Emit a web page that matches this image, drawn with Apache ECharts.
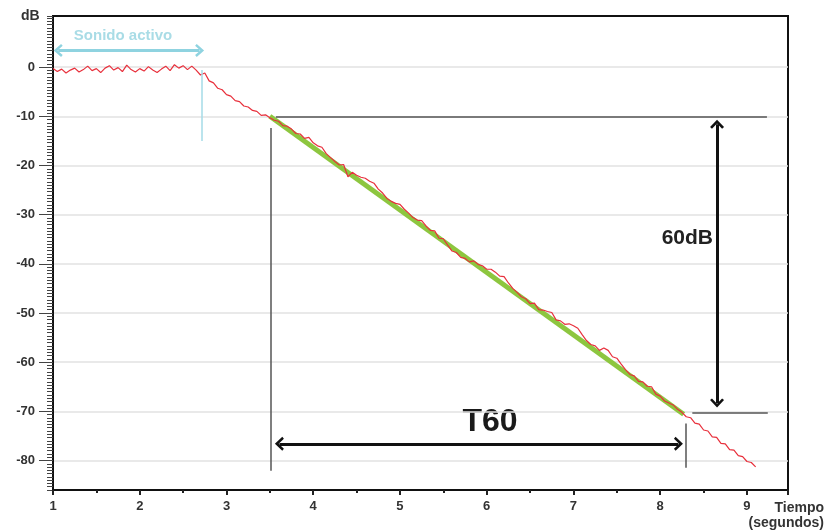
<!DOCTYPE html>
<html>
<head>
<meta charset="utf-8">
<title>Tiempo de reverberación T60</title>
<script src="https://cdn.jsdelivr.net/npm/echarts@6/dist/echarts.min.js"></script>
<style>
    html, body { margin: 0; padding: 0; background: #fff; }
    #main { width: 828px; height: 531px; }
</style>
</head>
<body>
<div id="main"></div>
<script>
// curva medida (dB), una muestra cada 0.05 s desde t = 1.00 s
var tInicio = 1.0;
var tPaso = 0.05;
var nivelDb = [
    -0.3, -0.9, -0.4, -1.2, -0.6, -0.2, -1.0, -0.5, 0.2, -0.7,
    -0.3, -1.1, -0.2, 0.3, -0.6, -0.1, -0.9, 0.4, -0.5, -1.0,
    -0.3, -0.8, 0.1, -0.6, -1.1, -0.4, 0.2, -0.7, 0.5, -0.2,
    0.3, -0.5, 0.2, -0.6,
    -1.6, -1.2, -2.8, -3.2, -4.3, -4.6, -5.6, -5.9, -6.8, -7.0,
    -7.9, -8.1, -8.8, -9.0, -9.8, -9.7, -10.3,
    -10.8, -11.0, -11.9, -12.0, -12.6, -13.5, -13.6, -14.5, -14.3, -15.4,
    -16.0, -16.3, -17.6, -18.4, -19.2, -19.9, -19.8, -22.3, -21.4, -22.0,
    -22.4, -22.6, -23.2, -23.6, -24.8, -25.6, -26.7, -27.3, -27.7, -27.9,
    -28.9, -29.7, -30.6, -31.1, -31.2, -32.3, -33.2, -33.3, -34.8, -34.9,
    -36.2, -37.4, -37.7, -38.7, -38.9, -39.6, -39.4, -40.1, -40.4, -41.1,
    -41.1, -41.7, -42.5, -42.6, -43.9, -45.0, -45.8, -46.7, -47.1, -48.1,
    -48.0, -49.3, -49.4, -49.7, -49.9, -51.4, -51.6, -52.3, -52.2, -52.6,
    -53.1, -54.4, -55.6, -56.4, -56.7, -57.6, -57.1, -57.6, -58.9, -59.2,
    -60.4, -61.5, -62.5, -62.8, -63.9, -64.0, -64.9, -65.0, -66.5, -66.9,
    -67.9, -68.3, -68.7, -69.6, -70.2, -71.1,
    -71.3, -72.4, -72.6, -73.8, -74.0, -75.2, -75.3, -76.5, -76.6, -77.8,
    -77.9, -79.0, -79.2, -80.2, -80.4, -81.3
];

// recta de ajuste (verde)
var ajusteT = [3.5, 8.27];
var ajusteDb = [-10, -70.6];

// ejes
var xTicks = [1, 2, 3, 4, 5, 6, 7, 8, 9];
var yTicks = [-80, -70, -60, -50, -40, -30, -20, -10, 0];

// anotaciones (coordenadas de datos)
var sonidoT = [1.06, 2.69];
var sonidoDb = 3.4;
var corteT = 2.72;
var corteDb = [-0.6, -15.0];
var lineaSupT = [3.57, 9.23];
var lineaSupDb = -10;
var lineaInfT = [8.37, 9.24];
var lineaInfDb = -70.2;
var guiaIzqT = 3.51;
var guiaIzqDb = [-12.4, -82.1];
var guiaDerT = 8.30;
var guiaDerDb = [-72.5, -81.5];
var flecha60T = 8.655;
var flecha60Db = [-11.6, -68.3];
var flechaT60T = [3.61, 8.21];
var flechaT60Db = -76.6;

var curva = [];
for (var i = 0; i < nivelDb.length; i++) {
    curva.push([+(tInicio + i * tPaso).toFixed(2), nivelDb[i]]);
}

var chevron = 'path://M0,9 L9,0 L18,9 L15.5,11 L9,4.6 L2.5,11 Z';
var fuente = '"Liberation Sans", Arial, sans-serif';

function tramo(a, b, color, ancho, conFlecha, tam) {
    return [
        {coord: a, symbol: conFlecha ? chevron : 'none', symbolSize: tam || [14, 9],
            lineStyle: {color: color, width: ancho, type: 'solid'}},
        {coord: b, symbol: conFlecha ? chevron : 'none', symbolSize: tam || [14, 9]}
    ];
}

var myChart = echarts.init(document.getElementById('main'), null, {renderer: 'canvas'});

var option = {
    animation: false,
    backgroundColor: '#fff',
    grid: {
        left: 53, right: 40, top: 16, bottom: 41,
        show: true, borderColor: '#111', borderWidth: 2, backgroundColor: 'transparent'
    },
    xAxis: {
        type: 'value',
        min: 1,
        max: 9.473,
        interval: 1,
        axisLine: {onZero: false, lineStyle: {color: '#111', width: 2}},
        axisTick: {length: 5, lineStyle: {color: '#222', width: 2}},
        minorTick: {show: true, splitNumber: 2, length: 3, lineStyle: {color: '#222', width: 2}},
        axisLabel: {
            margin: 10, color: '#333', fontWeight: 'bold', fontSize: 13, fontFamily: fuente,
            formatter: function (v) { return xTicks.indexOf(v) >= 0 ? String(v) : ''; }
        },
        splitLine: {show: false}
    },
    yAxis: [
        {
            type: 'value',
            min: -86,
            max: 10.4,
            axisLine: {show: true, onZero: false, lineStyle: {color: '#111', width: 2}},
            axisTick: {show: true, customValues: yTicks, length: 14, lineStyle: {color: '#444', width: 1}},
            axisLabel: {
                customValues: yTicks, margin: 18, color: '#333',
                fontWeight: 'bold', fontSize: 13, fontFamily: fuente
            },
            splitLine: {show: true, lineStyle: {color: '#e2e2e2', width: 1.5}}
        },
        {
            type: 'value',
            min: -86,
            max: 10.4,
            interval: 2 / 3,
            position: 'left',
            axisLine: {show: false, onZero: false},
            axisTick: {show: true, length: 6, lineStyle: {color: '#444', width: 1}},
            axisLabel: {show: false},
            splitLine: {show: false}
        }
    ],
    series: [
        {
            name: 'ajuste',
            type: 'line',
            data: [[ajusteT[0], ajusteDb[0]], [ajusteT[1], ajusteDb[1]]],
            symbol: 'none',
            lineStyle: {color: '#8dc63f', width: 5},
            z: 2,
            silent: true
        },
        {
            name: 'nivel',
            type: 'line',
            data: curva,
            symbol: 'none',
            lineStyle: {color: '#e8303c', width: 1.2},
            z: 3,
            silent: true
        },
        {
            name: 'anotaciones',
            type: 'line',
            data: [],
            z: 4,
            silent: true,
            markLine: {
                silent: true,
                animation: false,
                label: {show: false},
                emphasis: {disabled: true},
                data: [
                    tramo([sonidoT[0], sonidoDb], [sonidoT[1], sonidoDb], '#8fd3e0', 3, true, [13, 9]),
                    tramo([corteT, corteDb[0]], [corteT, corteDb[1]], '#a5dbe7', 1.5, false),
                    tramo([lineaSupT[0], lineaSupDb], [lineaSupT[1], lineaSupDb], '#555', 1.5, false),
                    tramo([lineaInfT[0], lineaInfDb], [lineaInfT[1], lineaInfDb], '#555', 1.5, false),
                    tramo([guiaIzqT, guiaIzqDb[0]], [guiaIzqT, guiaIzqDb[1]], '#555', 1.5, false),
                    tramo([guiaDerT, guiaDerDb[0]], [guiaDerT, guiaDerDb[1]], '#555', 1.5, false),
                    tramo([flecha60T, flecha60Db[0]], [flecha60T, flecha60Db[1]], '#111', 3, true),
                    tramo([flechaT60T[0], flechaT60Db], [flechaT60T[1], flechaT60Db], '#111', 3, true)
                ]
            }
        }
    ],
    graphic: [
        {type: 'text', x: 21, y: 16, silent: true,
            style: {text: 'dB', font: 'bold 14px ' + fuente, fill: '#333',
                align: 'left', verticalAlign: 'middle', textAlign: 'left', textVerticalAlign: 'middle'}},
        {type: 'text', x: 123, y: 36, silent: true,
            style: {text: 'Sonido activo', font: 'bold 15px ' + fuente, fill: '#a9dce6',
                align: 'center', verticalAlign: 'middle', textAlign: 'center', textVerticalAlign: 'middle'}},
        {type: 'text', x: 713, y: 238, silent: true,
            style: {text: '60dB', font: 'bold 21px ' + fuente, fill: '#222',
                align: 'right', verticalAlign: 'middle', textAlign: 'right', textVerticalAlign: 'middle'}},
        {type: 'text', x: 490, y: 422, silent: true,
            style: {text: 'T60', font: 'bold 32px ' + fuente, fill: '#1a1a1a',
                align: 'center', verticalAlign: 'middle', textAlign: 'center', textVerticalAlign: 'middle'}},
        {type: 'text', x: 824, y: 508, silent: true,
            style: {text: 'Tiempo', font: 'bold 14px ' + fuente, fill: '#333',
                align: 'right', verticalAlign: 'middle', textAlign: 'right', textVerticalAlign: 'middle'}},
        {type: 'text', x: 824, y: 523, silent: true,
            style: {text: '(segundos)', font: 'bold 14px ' + fuente, fill: '#333',
                align: 'right', verticalAlign: 'middle', textAlign: 'right', textVerticalAlign: 'middle'}}
    ]
};

myChart.setOption(option);
</script>
</body>
</html>
